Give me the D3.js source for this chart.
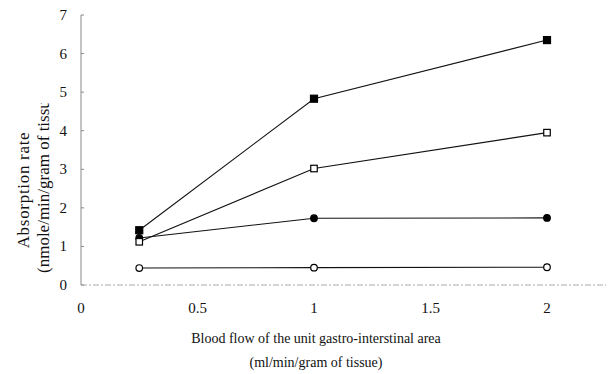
<html>
<head>
<script src="https://d3js.org/d3.v7.min.js"></script>
<style>
  body { margin: 0; background: #fff; }
  text { font-family: "Liberation Serif", "Times New Roman", serif; fill: #111; }
</style>
</head>
<body>
<div id="chart"></div>
<script>
// blood flow (ml/min/gram of tissue)
const flow = [0.25, 1, 2];
// absorption rate series (nmole/min/gram of tissue)
const filledSquare = [1.42, 4.83, 6.35];
const openSquare = [1.12, 3.02, 3.95];
const filledCircle = [1.22, 1.73, 1.74];
const openCircle = [0.44, 0.45, 0.46];
const xTicks = [0, 0.5, 1, 1.5, 2];
const yTicks = [0, 1, 2, 3, 4, 5, 6, 7];

const W = 608, H = 374;
const margin = { top: 15, right: 61, bottom: 89, left: 81 };

const svg = d3.select("#chart").append("svg")
  .attr("width", W).attr("height", H);

const x = d3.scaleLinear().domain([0, 2]).range([margin.left, W - margin.right]);
const y = d3.scaleLinear().domain([0, 7]).range([H - margin.bottom, margin.top]);

// x axis line (faint, dotted)
svg.append("line")
  .attr("x1", x(0)).attr("x2", W - 2)
  .attr("y1", y(0)).attr("y2", y(0))
  .attr("stroke", "#aaa").attr("stroke-dasharray", "6,2,2,2");

// y axis
svg.append("line")
  .attr("x1", x(0)).attr("x2", x(0))
  .attr("y1", y(0)).attr("y2", y(7))
  .attr("stroke", "#888");
svg.selectAll(".ytick").data(yTicks).enter().append("line")
  .attr("x1", x(0)).attr("x2", x(0) + 3)
  .attr("y1", d => y(d)).attr("y2", d => y(d))
  .attr("stroke", "#888");
svg.selectAll(".ylab").data(yTicks).enter().append("text")
  .attr("x", x(0) - 14).attr("y", d => y(d) + 5)
  .attr("text-anchor", "end").style("font-size", "15px")
  .text(d => d);

svg.selectAll(".xlab").data(xTicks).enter().append("text")
  .attr("x", d => x(d)).attr("y", y(0) + 28)
  .attr("text-anchor", "middle").style("font-size", "15px")
  .text(d => d);

// titles
svg.append("text")
  .attr("x", 316).attr("y", 343)
  .attr("text-anchor", "middle").style("font-size", "14px")
  .text("Blood flow of the unit gastro-interstinal area");
svg.append("text")
  .attr("x", 316).attr("y", 367)
  .attr("text-anchor", "middle").style("font-size", "14px")
  .text("(ml/min/gram of tissue)");

// y title: second line is cut off at the top in the original
svg.append("clipPath").attr("id", "ylabClip")
  .append("rect").attr("x", 0).attr("y", 103).attr("width", 70).attr("height", 200);

svg.append("text")
  .attr("transform", "translate(29,190) rotate(-90)")
  .attr("text-anchor", "middle").style("font-size", "17px")
  .style("letter-spacing", "0.7px")
  .text("Absorption rate");
svg.append("g").attr("clip-path", "url(#ylabClip)")
  .append("text")
  .attr("transform", "translate(49,273) rotate(-90)")
  .attr("text-anchor", "start").style("font-size", "17px")
  .text("(nmole/min/gram of tissue");

const line = d3.line().x(d => x(d[0])).y(d => y(d[1]));
const series = [
  { vals: openCircle, shape: "circle", fill: "#fff" },
  { vals: filledCircle, shape: "circle", fill: "#000" },
  { vals: openSquare, shape: "square", fill: "#fff" },
  { vals: filledSquare, shape: "square", fill: "#000" }
];

series.forEach(s => {
  const pts = flow.map((f, i) => [f, s.vals[i]]);
  svg.append("path").datum(pts)
    .attr("d", line).attr("fill", "none")
    .attr("stroke", "#111").attr("stroke-width", 1.1);
  if (s.shape === "circle") {
    svg.selectAll(null).data(pts).enter().append("circle")
      .attr("cx", d => x(d[0])).attr("cy", d => y(d[1]))
      .attr("r", 3.3).attr("fill", s.fill)
      .attr("stroke", "#000").attr("stroke-width", 1.2);
  } else {
    const sz = s.fill === "#000" ? 7 : 6.5;
    svg.selectAll(null).data(pts).enter().append("rect")
      .attr("x", d => x(d[0]) - sz / 2).attr("y", d => y(d[1]) - sz / 2)
      .attr("width", sz).attr("height", sz).attr("fill", s.fill)
      .attr("stroke", "#000").attr("stroke-width", 1.2);
  }
});
</script>
</body>
</html>
